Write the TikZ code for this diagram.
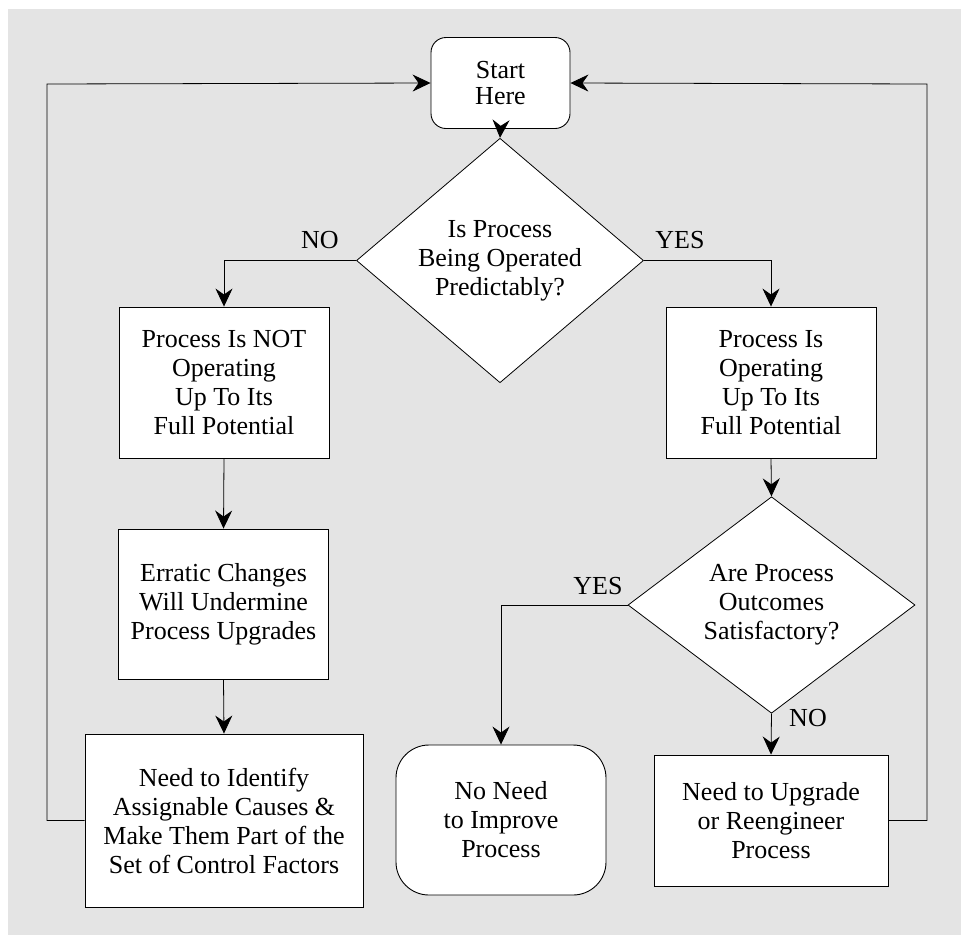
\documentclass[tikz,border=0pt]{standalone}
\usepackage{fontspec}
\setmainfont{Liberation Serif}
\newfontfamily\diafont{Liberation Serif}
\usetikzlibrary{shapes.geometric,arrows.meta}
\definecolor{bgc}{RGB}{228,228,228}
\tikzset{
  txt/.style={font=\diafont\fontsize{26}{29}\selectfont, align=center, inner sep=0pt},
  boxnode/.style={txt, draw=black, line width=0.9pt, fill=white, rectangle},
  roundnode/.style={boxnode, rounded corners=#1},
  decision/.style={txt, draw=black, line width=0.8pt, fill=white, diamond, minimum width=287pt, minimum height=191pt},
  lbl/.style={txt},
  arr/.style={line width=0.8pt, -{Stealth[length=18pt,width=17pt,inset=6pt]}}
}
\begin{document}
\begin{tikzpicture}[x=1pt,y=-1pt]
\useasboundingbox (0,0) rectangle (961,935);
\fill[bgc] (8,9) rectangle (961,935);

\node[roundnode=15pt, minimum width=139pt, minimum height=91pt, font=\diafont\fontsize{26}{26}\selectfont] (start) at (500.5,83) {Start\\Here};
\node[decision] (d1) at (500,260.5) {Is Process\\Being Operated\\Predictably?};
\node[boxnode, minimum width=210pt, minimum height=151pt] (b1) at (224,382.5) {Process Is NOT\\Operating\\Up To Its\\Full Potential};
\node[boxnode, minimum width=210pt, minimum height=150pt] (b2) at (223.5,604) {Erratic Changes\\Will Undermine\\Process Upgrades};
\node[boxnode, minimum width=278pt, minimum height=173pt] (b3) at (224,820.5) {Need to Identify\\Assignable Causes \&\\Make Them Part of the\\Set of Control Factors};
\node[boxnode, minimum width=210pt, minimum height=151pt] (r1) at (771,382.5) {Process Is\\Operating\\Up To Its\\Full Potential};
\node[decision] (d2) at (771.5,605) {Are Process\\Outcomes\\Satisfactory?};
\node[roundnode=33pt, minimum width=210pt, minimum height=150pt] (nn) at (501,820) {No Need\\to Improve\\Process};
\node[boxnode, minimum width=234pt, minimum height=131pt] (r2) at (771,820.5) {Need to Upgrade\\or Reengineer\\Process};

\node[lbl] (lno1) at (320,240) {NO};
\node[lbl] (lyes1) at (680,240) {YES};
\node[lbl] (lyes2) at (598,586) {YES};
\node[lbl] (lno2) at (808,718) {NO};

\coordinate (cl) at (47,84);
\coordinate (cr) at (927,84);

\draw[arr] (start.south) -- (d1.north);
\draw[arr] (d1.west) -| (b1.north);
\draw[arr] (d1.east) -| (r1.north);
\draw[arr] (b1.south) -- (b2.north);
\draw[arr] (b2.south) -- (b3.north);
\draw[arr] (r1.south) -- (d2.north);
\draw[arr] (d2.west) -| (nn.north);
\draw[arr] (d2.south) -- (r2.north);
\draw[arr] (b3.west) -| (cl) -- (start.west);
\draw[arr] (r2.east) -| (cr) -- (start.east);
\end{tikzpicture}
\end{document}
